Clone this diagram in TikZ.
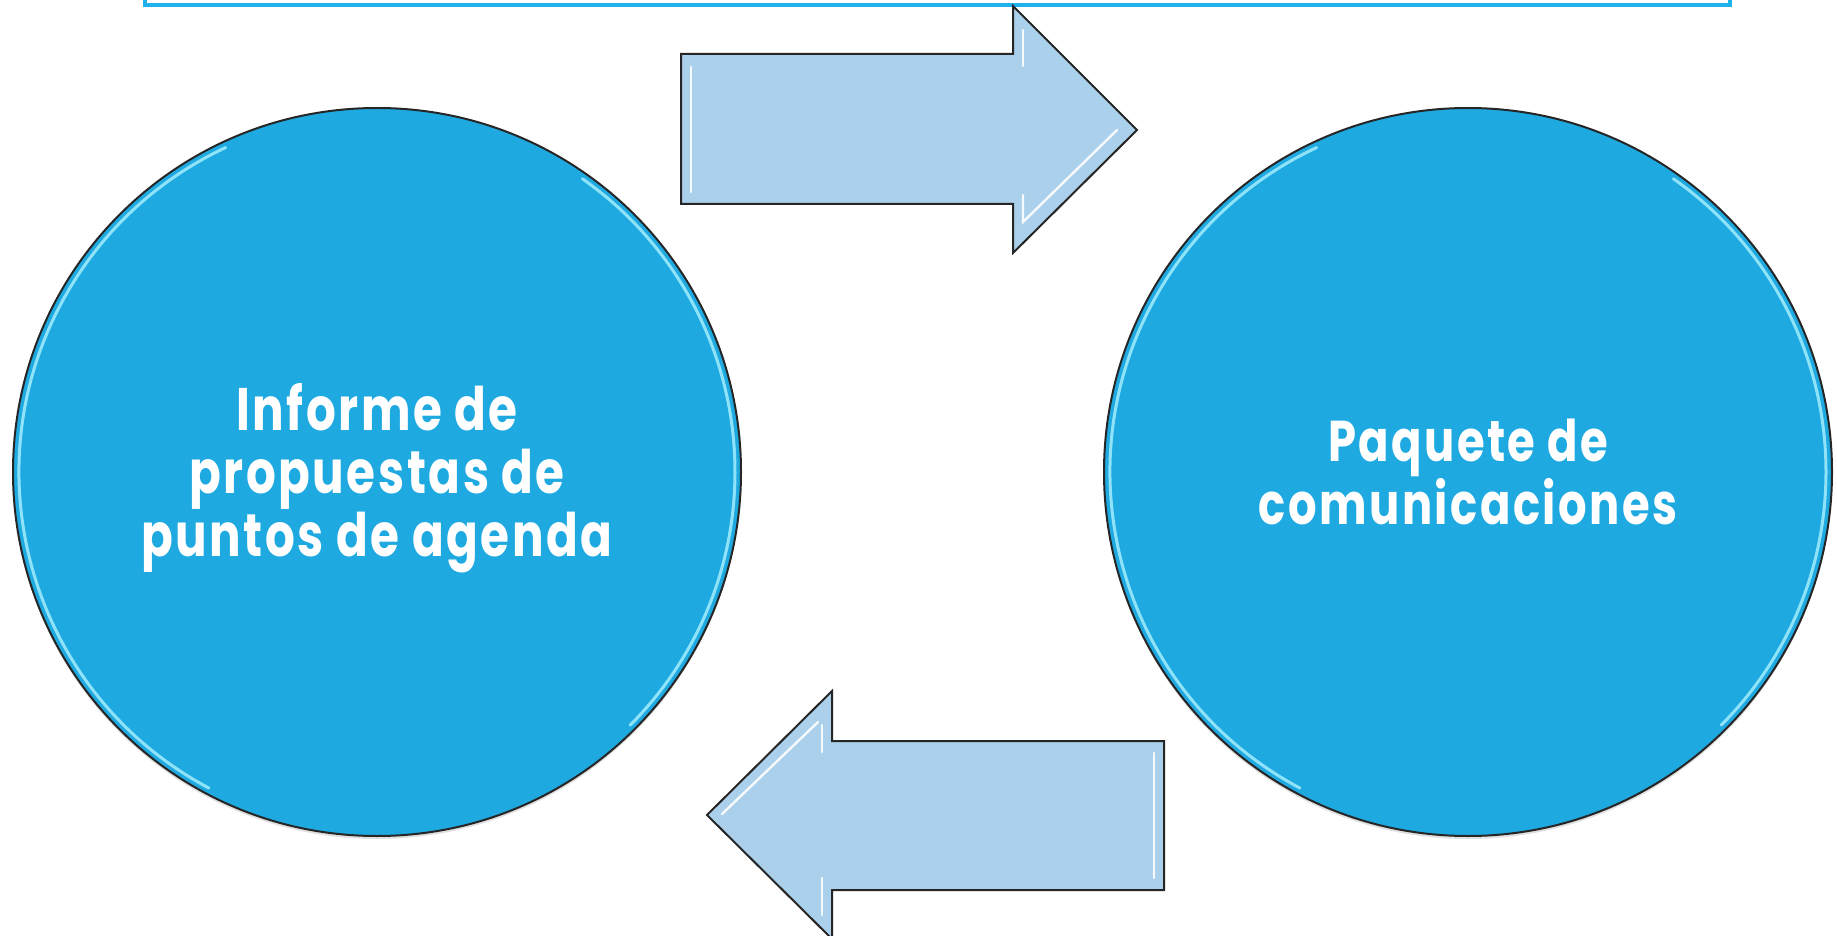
\documentclass[tikz,border=0pt]{standalone}
\usepackage{fontspec}
\newfontfamily\labfont[FakeStretch=0.78,LetterSpace=4.3]{Poppins}
\definecolor{circfill}{HTML}{1EA9E1}
\definecolor{arrowfill}{HTML}{ABD0EC}
\definecolor{framecol}{HTML}{1FB1EA}
\definecolor{rimcol}{HTML}{9CEAFC}
\tikzset{
  circ/.style={circle, draw=black!85, line width=2pt, fill=circfill, minimum size=728pt, inner sep=0pt},
  lab/.style={text=white, align=center, inner sep=0pt},
  blockarrow/.style={draw=black!85, line width=2pt, fill=arrowfill, line join=miter},
  rim/.style={draw=rimcol, line width=3pt, opacity=0.9, line cap=round},
  shine/.style={draw=white, line width=2.4pt, opacity=0.9, line cap=round},
  frame/.style={draw=framecol, line width=4pt}
}
\begin{document}
\begin{tikzpicture}[x=1pt,y=-1pt]
\useasboundingbox (0,0) rectangle (1837,936);
% top frame (only its lower part is visible)
\draw[frame] (145,-20) -- (145,5) -- (1730,5) -- (1730,-20);
% shadows
\fill[black, opacity=0.12] (377,475) circle (364);
\fill[black, opacity=0.12] (1468,475) circle (364);
% circles
\node[circ] (inf) at (377,472) {};
\node[circ] (paq) at (1468,472) {};
% rims (bevel highlights)
\draw[rim] ([shift={(118:358)}]inf.center) arc[start angle=118, end angle=245, radius=358];
\draw[rim] ([shift={(-55:358)}]inf.center) arc[start angle=-55, end angle=45, radius=358];
\draw[rim] ([shift={(118:358)}]paq.center) arc[start angle=118, end angle=245, radius=358];
\draw[rim] ([shift={(-55:358)}]paq.center) arc[start angle=-55, end angle=45, radius=358];
% labels
\node[lab, font=\labfont\bfseries\fontsize{60}{63}\selectfont] (inftext) at (377,478)
  {Informe de\\propuestas de\\puntos de agenda};
\node[lab, font=\labfont\bfseries\fontsize{57.5}{56}\selectfont] (paqtext) at (1468,472)
  {Paquete de\\comunicaciones};
% right arrow
\draw[blockarrow] (681,54) -- (1013,54) -- (1013,6) -- (1137,130) -- (1013,253)
  -- (1013,204) -- (681,204) -- cycle;
\draw[shine] (691,67) -- (691,192);
\draw[shine] (1023,30) -- (1023,66);
\draw[shine] (1023,195) -- (1023,222) -- (1117,130);
% left arrow
\draw[blockarrow] (1164,741) -- (832,741) -- (832,691) -- (707,815) -- (832,939)
  -- (832,890) -- (1164,890) -- cycle;
\draw[shine] (1154,753) -- (1154,878);
\draw[shine] (822,725) -- (822,752);
\draw[shine] (822,878) -- (822,915);
\draw[shine] (722,814) -- (818,722);
\end{tikzpicture}
\end{document}
